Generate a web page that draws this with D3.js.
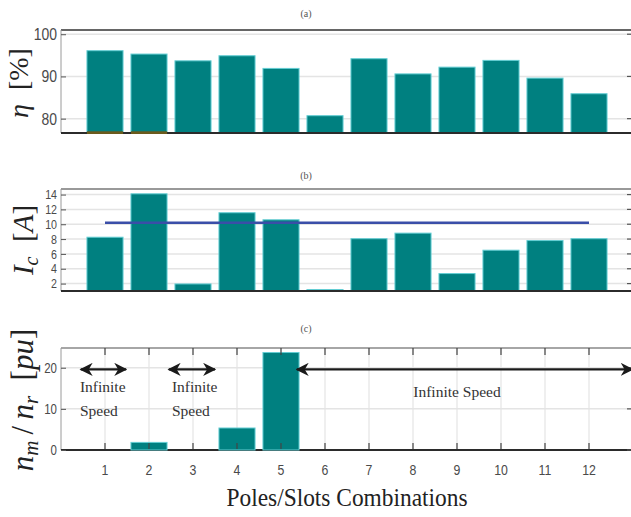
<!DOCTYPE html>
<html>
<head>
<meta charset="utf-8">
<script src="https://cdn.jsdelivr.net/npm/d3@7"></script>
<style>
  html, body { margin: 0; padding: 0; background: #fff; }
  svg { display: block; }
</style>
</head>
<body>
<svg id="chart" width="631" height="517"></svg>
<script>
// Pole/slot combinations on the shared x axis
const combos = [1, 2, 3, 4, 5, 6, 7, 8, 9, 10, 11, 12];
const comboTicks = ["1", "2", "3", "4", "5", "6", "7", "8", "9", "10", "11", "12"];

// (a) efficiency [%]
const efficiency = [96.1, 95.3, 93.7, 94.9, 91.9, 80.7, 94.2, 90.6, 92.2, 93.8, 89.6, 85.9];
const efficiencyBase = [77.0, 77.0, null, null, null, null, null, null, null, null, null, null];
const efficiencyTicks = [80, 90, 100];

// (b) characteristic current [A] and rated current
const charCurrent = [8.25, 14.1, 1.95, 11.55, 10.6, 1.2, 8.05, 8.8, 3.35, 6.5, 7.8, 8.05];
const ratedCurrent = 10.2;
const currentTicks = [2, 4, 6, 8, 10, 12, 14];

// (c) speed ratio n_m / n_r [pu]
const speedRatio = [0, 1.85, 0, 5.35, 23.7, 0, 0, 0, 0, 0, 0, 0];
const speedTicks = [0, 10, 20];

// "Infinite Speed" annotations: arrow span (x from..to), arrow level, text lines
const notes = [
  { x0: 0.45, x1: 1.48, y: 19.6, lines: ["Infinite", "Speed"], tx: 0.43, anchor: "start" },
  { x0: 2.45, x1: 3.5,  y: 19.6, lines: ["Infinite", "Speed"], tx: 2.52, anchor: "start" },
  { x0: 5.36, x1: 12.99, y: 19.6, lines: ["Infinite Speed"], tx: 9.0, anchor: "middle" }
];

const SERIF = '"Liberation Serif", "Times New Roman", serif';
const SANS = '"Liberation Sans", Arial, sans-serif';

const svg = d3.select("#chart");
const x = d3.scaleLinear().domain([0, 13]).range([61, 633]);
const half = (x(1) - x(0)) * 0.41;

const BAR = "#008080", EDGE = "#63cdd3", GRID = "#e4e4e4";

// narrow look for the numeric tick labels
function condense(sel, k) {
  sel.each(function () {
    const w = this.getComputedTextLength();
    d3.select(this).attr("textLength", w * k).attr("lengthAdjust", "spacingAndGlyphs");
  });
}

const defs = svg.append("defs");
defs.append("marker")
  .attr("id", "head")
  .attr("viewBox", "0 0 10 10")
  .attr("refX", 9).attr("refY", 5)
  .attr("markerWidth", 6).attr("markerHeight", 6)
  .attr("markerUnits", "strokeWidth")
  .attr("orient", "auto-start-reverse")
  .append("path")
  .attr("d", "M0,0 L10,5 L0,10 L3,5 Z")
  .attr("fill", "#1a1a1a");

function panel(cfg) {
  const y = d3.scaleLinear().domain(cfg.domain).range([cfg.bottom, cfg.top]);
  const g = svg.append("g");
  const floor = Math.max(cfg.domain[0], 0);
  const rows = combos.map((c, i) => ({ c, v: cfg.values[i] }));

  // horizontal grid
  g.selectAll(".hgrid").data(cfg.ticks).join("line")
    .attr("x1", x(0)).attr("x2", x(13))
    .attr("y1", d => y(d)).attr("y2", d => y(d))
    .attr("stroke", GRID).attr("stroke-width", 1.5);

  // vertical grid
  if (cfg.vgrid) {
    g.selectAll(".vgrid").data(combos).join("line")
      .attr("x1", d => x(d)).attr("x2", d => x(d))
      .attr("y1", cfg.top).attr("y2", cfg.bottom)
      .attr("stroke", GRID).attr("stroke-width", 1.2);
  }

  const drawBars = () => g.append("g").selectAll("rect").data(rows)
    .join("rect")
    .attr("x", d => x(d.c) - half).attr("width", 2 * half)
    .attr("y", d => y(d.v)).attr("height", d => Math.max(0, y(floor) - y(d.v)))
    .attr("fill", BAR).attr("stroke", EDGE).attr("stroke-width", 1);

  if (!cfg.barsOnTop) drawBars();

  // frame lines
  g.append("line").attr("x1", x(0)).attr("x2", x(13)).attr("y1", cfg.top).attr("y2", cfg.top)
    .attr("stroke", cfg.topColor).attr("stroke-width", 1.5);
  g.append("line").attr("x1", x(0)).attr("x2", x(0)).attr("y1", cfg.top).attr("y2", cfg.bottom)
    .attr("stroke", "#9a9a9a").attr("stroke-width", 1);
  g.append("line").attr("x1", x(0)).attr("x2", x(13)).attr("y1", cfg.bottom).attr("y2", cfg.bottom)
    .attr("stroke", "#2b2b2b").attr("stroke-width", 1.8);

  if (cfg.barsOnTop) drawBars();

  // base series, seen as a band along the bottom edge of its bars
  if (cfg.base) {
    g.selectAll(".base").data(combos.map((c, i) => ({ c, v: cfg.base[i] })).filter(d => d.v != null))
      .join("rect")
      .attr("x", d => x(d.c) - half).attr("width", 2 * half)
      .attr("y", d => y(d.v)).attr("height", d => y(cfg.domain[0]) - y(d.v) + 1)
      .attr("fill", "#6b5a1c");
  }

  // y axis (left ticks inward) and mirrored ticks on the right edge
  const axL = d3.axisLeft(y).tickValues(cfg.ticks).tickSizeInner(-5).tickSizeOuter(0).tickPadding(8);
  const ga = g.append("g").attr("transform", `translate(${x(0)},0)`).call(axL);
  ga.select(".domain").remove();
  ga.selectAll(".tick line").attr("stroke", "#555");
  const tl = ga.selectAll(".tick text")
    .style("font-family", SANS).attr("font-size", cfg.labelSize)
    .attr("fill", "#4a4a4a").attr("dx", 4);
  condense(tl, 0.82);

  g.selectAll(".rtick").data(cfg.ticks).join("line")
    .attr("x1", x(13) - 6).attr("x2", x(13))
    .attr("y1", d => y(d)).attr("y2", d => y(d))
    .attr("stroke", "#555").attr("stroke-width", 1.2);

  // panel caption
  svg.append("text").style("font-family", SERIF)
    .attr("x", 306).attr("y", cfg.captionY).attr("text-anchor", "middle")
    .attr("font-size", 10).attr("fill", "#555").text(cfg.caption);

  return { g, y };
}

// (a)
const pa = panel({
  top: 30, bottom: 133, domain: [76.6, 101], ticks: efficiencyTicks,
  values: efficiency, base: efficiencyBase, labelSize: 17, topColor: "#333",
  caption: "(a)", captionY: 17
});

// (b)
const pb = panel({
  top: 189, bottom: 291, domain: [1, 14.75], ticks: currentTicks,
  values: charCurrent, labelSize: 13, topColor: "#777",
  caption: "(b)", captionY: 179
});
pb.g.append("line")
  .attr("x1", x(combos[0])).attr("x2", x(combos[combos.length - 1]))
  .attr("y1", pb.y(ratedCurrent)).attr("y2", pb.y(ratedCurrent))
  .attr("stroke", "#3a4ea8").attr("stroke-width", 2.4);

// (c)
const pc = panel({
  top: 348, bottom: 450, domain: [0, 24.8], ticks: speedTicks,
  values: speedRatio, labelSize: 14, topColor: "#888", vgrid: true, barsOnTop: true,
  caption: "(c)", captionY: 332
});

// x ticks on top and bottom edges of panel (c), pointing inward
pc.g.selectAll(".xt-top").data(combos).join("line")
  .attr("x1", d => x(d)).attr("x2", d => x(d))
  .attr("y1", 348).attr("y2", 355).attr("stroke", "#444").attr("stroke-width", 1.2);
pc.g.selectAll(".xt-bot").data(combos).join("line")
  .attr("x1", d => x(d)).attr("x2", d => x(d))
  .attr("y1", 443).attr("y2", 449).attr("stroke", "#444").attr("stroke-width", 1.2);
const xl = pc.g.selectAll(".xlab").data(combos).join("text")
  .style("font-family", SANS).attr("fill", "#4a4a4a")
  .attr("x", d => x(d)).attr("y", 475).attr("text-anchor", "middle")
  .attr("font-size", 15).text((d, i) => comboTicks[i]);
condense(xl, 0.82);

// annotations
notes.forEach(n => {
  pc.g.append("line")
    .attr("x1", x(n.x0)).attr("x2", x(n.x1))
    .attr("y1", pc.y(n.y)).attr("y2", pc.y(n.y))
    .attr("stroke", "#1a1a1a").attr("stroke-width", 2.2)
    .attr("marker-end", "url(#head)")
    .attr("marker-start", "url(#head)");
  const t = pc.g.append("text").style("font-family", SERIF)
    .attr("font-size", 15.5).attr("fill", "#333").attr("text-anchor", n.anchor);
  if (n.lines.length === 2) {
    t.append("tspan").attr("x", x(n.tx)).attr("y", 392).text(n.lines[0]);
    t.append("tspan").attr("x", x(n.tx)).attr("y", 416).text(n.lines[1]);
  } else {
    t.append("tspan").attr("x", x(n.tx)).attr("y", 397).text(n.lines[0]);
  }
});

// x axis title
svg.append("text").style("font-family", SERIF)
  .attr("x", 347).attr("y", 506).attr("text-anchor", "middle")
  .attr("font-size", 25).attr("fill", "#222")
  .attr("textLength", 241).attr("lengthAdjust", "spacingAndGlyphs")
  .text("Poles/Slots Combinations");

// y axis titles (math style)
function yTitle(cx, cy, size, build) {
  const t = svg.append("text").style("font-family", SERIF)
    .attr("transform", `translate(${cx},${cy}) rotate(-90)`)
    .attr("text-anchor", "middle").attr("font-size", size).attr("fill", "#222");
  build(t);
}
yTitle(28, 83, 28, t => {
  t.append("tspan").attr("font-style", "italic").text("η");
  t.append("tspan").text("\u2002[%]");
});
yTitle(33, 240, 29, t => {
  t.append("tspan").attr("font-style", "italic").text("I");
  t.append("tspan").attr("font-style", "italic").attr("font-size", 20).attr("dy", 5).text("c");
  t.append("tspan").attr("dy", -5).text("\u2002[");
  t.append("tspan").attr("font-style", "italic").text("A");
  t.append("tspan").text("]");
});
yTitle(33, 400, 31, t => {
  t.append("tspan").attr("font-style", "italic").text("n");
  t.append("tspan").attr("font-style", "italic").attr("font-size", 21).attr("dy", 5).text("m");
  t.append("tspan").attr("dy", -5).text("\u2009/\u2009");
  t.append("tspan").attr("font-style", "italic").text("n");
  t.append("tspan").attr("font-style", "italic").attr("font-size", 21).attr("dy", 5).text("r");
  t.append("tspan").attr("dy", -5).text("\u2002[");
  t.append("tspan").attr("font-style", "italic").text("pu");
  t.append("tspan").text("]");
});
</script>
</body>
</html>
